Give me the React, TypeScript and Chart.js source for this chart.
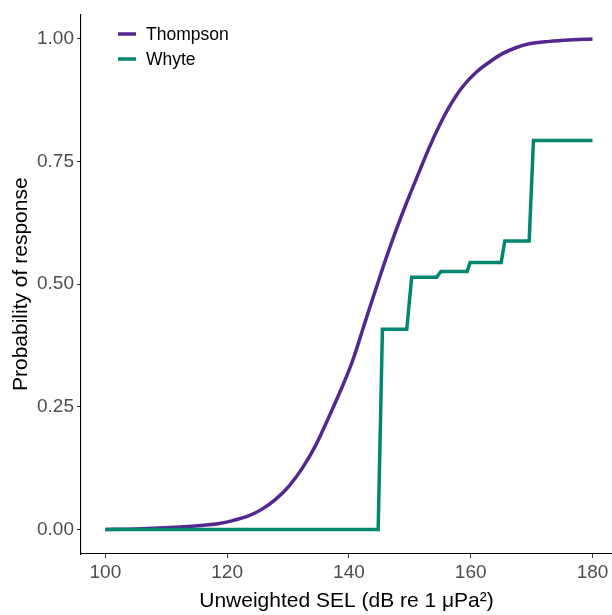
import React, { useEffect, useRef } from "react";
import { Chart, registerables } from "chart.js";

Chart.register(...registerables);

// Thompson dose-response curve
const thompsonX = [100, 105, 110.8, 115.7, 118.7, 120.9, 123.6, 125.8, 128.0, 130.2, 132.4, 134.6, 136.8, 139.0, 140.6, 142.2, 143.3, 145.5, 147.5, 149.4, 151.6, 153.2, 154.8, 156.5, 158.7, 160.9, 163.1, 165.2, 167.4, 169.6, 172.9, 176.2, 180.0];
const thompsonY = [0, 0.001, 0.004, 0.008, 0.012, 0.018, 0.028, 0.042, 0.062, 0.089, 0.126, 0.173, 0.232, 0.294, 0.344, 0.405, 0.448, 0.531, 0.602, 0.664, 0.731, 0.779, 0.822, 0.862, 0.903, 0.932, 0.953, 0.970, 0.982, 0.99, 0.995, 0.998, 1.0];

// Whyte step curve
const whyteX = [100, 144.8, 145.5, 149.5, 150.3, 154.4, 155.1, 159.4, 159.9, 165.0, 165.6, 169.6, 170.3, 180];
const whyteY = [0, 0, 0.408, 0.408, 0.514, 0.514, 0.526, 0.526, 0.544, 0.544, 0.588, 0.588, 0.793, 0.793];

const seriesNames = ["Thompson", "Whyte"];
const seriesColors = ["#54278F", "#00876F"];

const xTicks = [100, 120, 140, 160, 180];
const yTicks = [0, 0.25, 0.5, 0.75, 1.0];

const xTitle = "Unweighted SEL (dB re 1 \u03BCPa\u00B2)";
const yTitle = "Probability of response";

const FONT = "'Liberation Sans', Arial, sans-serif";

const legendPlugin = {
  id: "innerLegend",
  afterDraw(chart: any) {
    const ctx = chart.ctx;
    ctx.save();
    seriesNames.forEach((name, i) => {
      const y = 34 + i * 25;
      ctx.strokeStyle = seriesColors[i];
      ctx.lineWidth = 3.5;
      ctx.lineCap = "butt";
      ctx.beginPath();
      ctx.moveTo(118, y);
      ctx.lineTo(136, y);
      ctx.stroke();
      ctx.fillStyle = "#000000";
      ctx.font = `17.5px ${FONT}`;
      ctx.textBaseline = "middle";
      ctx.textAlign = "left";
      ctx.fillText(name, 146, y + 1);
    });
    ctx.restore();
  },
};

export default function App() {
  const ref = useRef<HTMLCanvasElement | null>(null);
  useEffect(() => {
    if (!ref.current) return;
    const chart = new Chart(ref.current, {
      type: "line",
      data: {
        datasets: [
          {
            label: seriesNames[0],
            data: thompsonX.map((x, i) => ({ x, y: thompsonY[i] })),
            borderColor: seriesColors[0],
            borderWidth: 3.5,
            pointRadius: 0,
            cubicInterpolationMode: "monotone",
            fill: false,
            order: 1,
          },
          {
            label: seriesNames[1],
            data: whyteX.map((x, i) => ({ x, y: whyteY[i] })),
            borderColor: seriesColors[1],
            borderWidth: 3.5,
            pointRadius: 0,
            tension: 0,
            fill: false,
            order: 0,
          },
        ],
      },
      options: {
        responsive: false,
        animation: false,
        layout: { padding: { top: 10, right: 0, left: 0, bottom: 0 } },
        plugins: { legend: { display: false }, tooltip: { enabled: false } },
        scales: {
          x: {
            type: "linear",
            min: 96,
            max: 183.2,
            afterBuildTicks: (s: any) => {
              s.ticks = xTicks.map((v) => ({ value: v }));
            },
            afterFit: (s: any) => {
              s.height = 61;
            },
            grid: { drawOnChartArea: false, drawTicks: true, tickLength: 4, color: "#333333", lineWidth: 1 },
            border: { display: true, color: "#000000", width: 1.1 },
            ticks: {
              color: "#4D4D4D",
              font: { family: FONT, size: 19 },
              padding: 3,
              maxRotation: 0,
              autoSkip: false,
              callback: (v: any) => String(v),
            },
            title: {
              display: true,
              text: xTitle,
              color: "#000000",
              font: { family: FONT, size: 21 },
              padding: { top: 0, bottom: 1 },
            },
          },
          y: {
            type: "linear",
            min: -0.05,
            max: 1.05,
            afterBuildTicks: (s: any) => {
              s.ticks = yTicks.map((v) => ({ value: v }));
            },
            afterFit: (s: any) => {
              s.width = 81;
            },
            grid: { drawOnChartArea: false, drawTicks: true, tickLength: 4, color: "#333333", lineWidth: 1 },
            border: { display: true, color: "#000000", width: 1.1 },
            ticks: {
              color: "#4D4D4D",
              font: { family: FONT, size: 19 },
              padding: 3,
              autoSkip: false,
              callback: (v: any) => Number(v).toFixed(2),
            },
            title: {
              display: true,
              text: yTitle,
              color: "#000000",
              font: { family: FONT, size: 21 },
              padding: { top: 9, bottom: 0 },
            },
          },
        },
      },
      plugins: [legendPlugin],
    });
    return () => chart.destroy();
  }, []);
  return (
    <div style={{ position: "fixed", left: 0, top: 0, width: 612, height: 615, background: "#ffffff" }}>
      <canvas ref={ref} width={612} height={615} />
    </div>
  );
}
